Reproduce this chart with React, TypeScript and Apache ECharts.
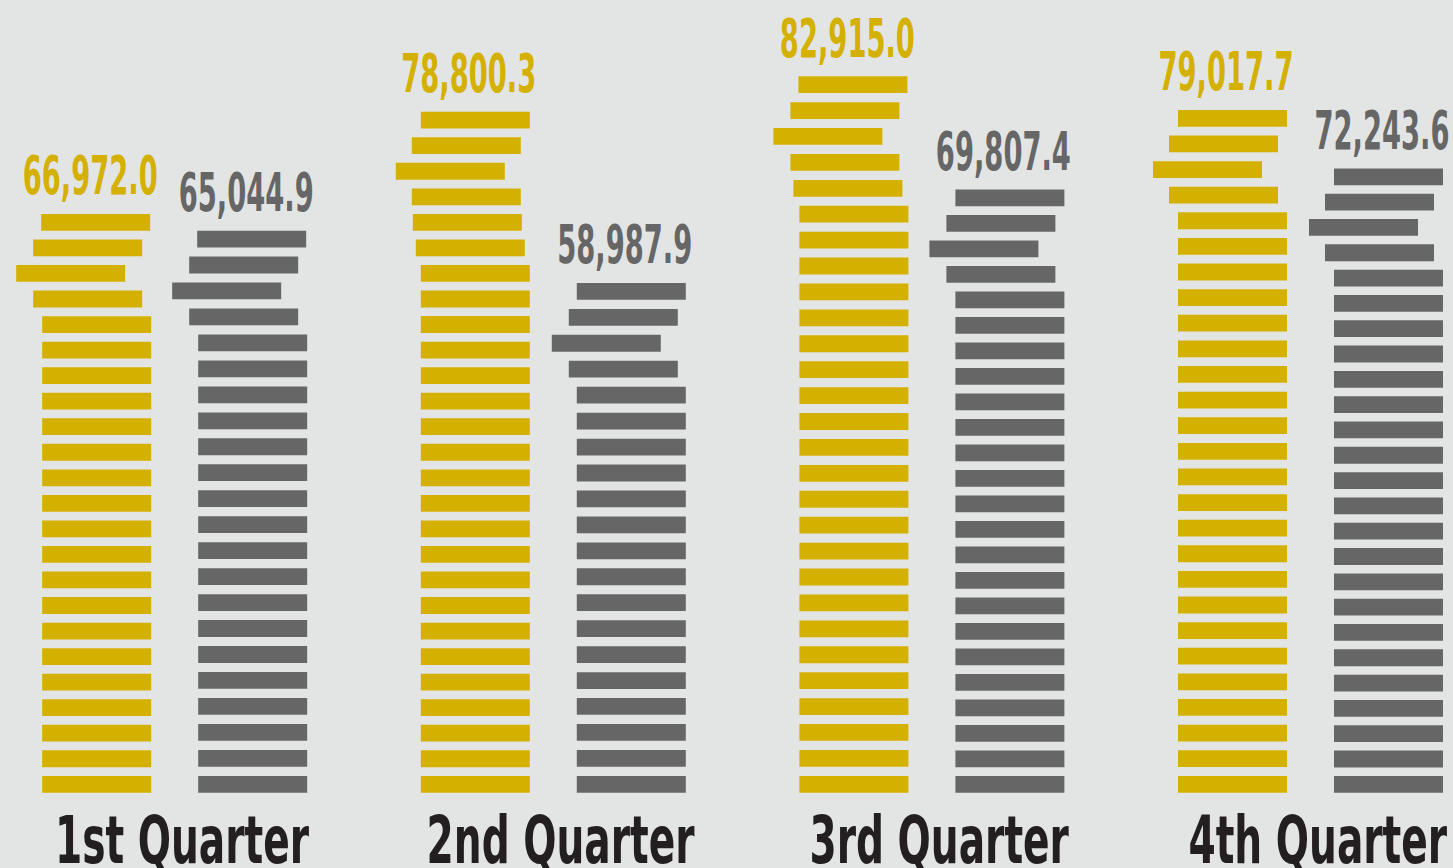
import React, { useEffect, useRef } from "react";
import * as echarts from "echarts";

// ---- data ----
const categories = ["1st Quarter", "2nd Quarter", "3rd Quarter", "4th Quarter"];
const seriesA = [66972.0, 78800.3, 82915.0, 79017.7]; // gold
const seriesB = [65044.9, 58987.9, 69807.4, 72243.6]; // gray
const UNIT_PER_BLOCK = 3000; // each stacked block stands for 3,000
const Y_MAX = 90000;
const X_MIN = -0.4614;
const X_MAX = 3.3764;

// ---- style ----
const BG = "#e3e5e4";
const GOLD = "#d4b000";
const GRAY = "#666666";
const DARK = "#231f20";
const FONT = '"Liberation Sans Narrow", "DejaVu Sans Condensed", "Roboto", sans-serif';
const BLOCK_W = 109;
const BLOCK_H = 16.8;
const PAIR_OFFSET = 78;
// horizontal wobble of the top blocks (from the top down), per series, per category
const WOBBLE_A = [
  [-1, -9, -26, -9],
  [0, -9, -25, -9, -8, -5],
  [-1, -9, -26, -9, -6],
  [0, -9, -25, -9],
];
const WOBBLE_B = [
  [-1, -9, -26, -9],
  [0, -8, -25, -8],
  [0, -9, -26, -9],
  [0, -9, -25, -9],
];

function measure(text: string, font: string): number {
  const ctx = document.createElement("canvas").getContext("2d");
  if (!ctx) return 1;
  ctx.font = font;
  return ctx.measureText(text).width || 1;
}

export default function App() {
  const ref = useRef<HTMLDivElement>(null);

  useEffect(() => {
    document.body.style.margin = "0";
    if (!ref.current) return;
    const chart = echarts.init(ref.current, null, { renderer: "svg" });

    const valueFontSize = 53;
    const catFontSize = 66;
    const valueScaleX = 135 / measure("66,972.0", `bold ${valueFontSize}px ${FONT}`);
    const catScaleX = 268 / measure("2nd Quarter", `bold ${catFontSize}px ${FONT}`);

    const makeRender = (side: number, color: string, wobble: number[][]) =>
      (params: any, api: any) => {
        const ci = api.value(0);
        const v = api.value(1);
        const top = api.coord([ci, v]);
        const base = api.coord([ci, 0]);
        const cx = base[0] + side * PAIR_OFFSET;
        const n = Math.max(1, Math.ceil(v / UNIT_PER_BLOCK));
        const pitch = n > 1 ? (base[1] - top[1] - BLOCK_H) / (n - 1) : 0;
        const wob = wobble[ci] || [];
        const children: any[] = [];
        for (let k = 0; k < n; k++) {
          const fromTop = n - 1 - k;
          const off = wob[fromTop] || 0;
          children.push({
            type: "rect",
            shape: {
              x: cx - BLOCK_W / 2 + off,
              y: base[1] - BLOCK_H - k * pitch,
              width: BLOCK_W,
              height: BLOCK_H,
            },
            style: { fill: color },
          });
        }
        children.push({
          type: "text",
          x: cx - 6.5,
          y: top[1] - 38,
          scaleX: valueScaleX,
          style: {
            text: echarts.format.addCommas(v.toFixed(1)),
            fill: color,
            font: `bold ${valueFontSize}px ${FONT}`,
            align: "center",
            verticalAlign: "middle",
          },
        });
        return { type: "group", children };
      };

    chart.setOption({
      animation: false,
      backgroundColor: BG,
      grid: { left: 0, right: 0, top: 15, bottom: 75.3 },
      xAxis: { type: "value", min: X_MIN, max: X_MAX, show: false },
      yAxis: { type: "value", min: 0, max: Y_MAX, show: false },
      series: [
        {
          type: "custom",
          name: "A",
          renderItem: makeRender(-1, GOLD, WOBBLE_A),
          data: seriesA.map((v, i) => [i, v]),
        },
        {
          type: "custom",
          name: "B",
          renderItem: makeRender(1, GRAY, WOBBLE_B),
          data: seriesB.map((v, i) => [i, v]),
        },
        {
          type: "custom",
          name: "labels",
          renderItem: (params: any, api: any) => {
            const ci = api.value(0);
            const p = api.coord([ci, 0]);
            return {
              type: "text",
              x: p[0] + 7.3,
              y: p[1] + 47,
              scaleX: catScaleX,
              style: {
                text: categories[ci],
                fill: DARK,
                font: `bold ${catFontSize}px ${FONT}`,
                align: "center",
                verticalAlign: "middle",
              },
            };
          },
          data: categories.map((_, i) => [i, 0]),
        },
      ],
    });

    return () => chart.dispose();
  }, []);

  return (
    <div
      ref={ref}
      style={{ position: "absolute", left: 0, top: 0, width: 1453, height: 868, background: BG }}
    />
  );
}
